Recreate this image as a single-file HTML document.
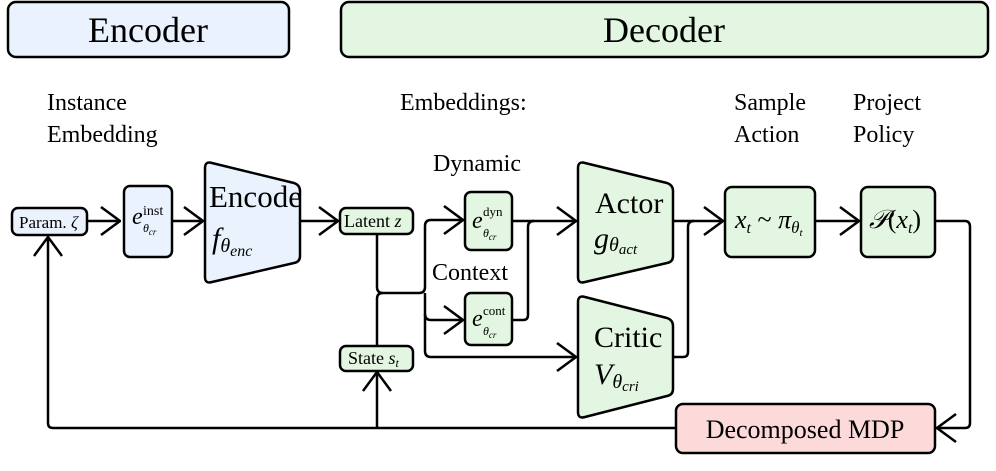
<!DOCTYPE html>
<html><head><meta charset="utf-8"><style>
body{margin:0;background:#fff}
svg text{font-family:"Liberation Serif",serif;fill:#000}
.i{font-style:italic}
</style></head><body>
<svg width="996" height="466" viewBox="0 0 996 466" xmlns="http://www.w3.org/2000/svg">
<defs>
<marker id="a" viewBox="0 0 22 32" markerWidth="22" markerHeight="32" refX="21" refY="16" orient="auto" markerUnits="userSpaceOnUse">
<path d="M2,2 L21,16 L2,30" fill="none" stroke="#000" stroke-width="2.5"/>
</marker>
</defs>
<g stroke="#000" stroke-width="2.5">
<rect x="8" y="2" width="281" height="55" rx="8" fill="#eaf2fd"/>
<rect x="341" y="2" width="647" height="55" rx="8" fill="#e3f6e1"/>
</g>
<text x="148" y="42" font-size="36" text-anchor="middle">Encoder</text>
<text x="664" y="42" font-size="36" text-anchor="middle">Decoder</text>
<g font-size="24">
<text x="47" y="110">Instance</text><text x="47" y="142">Embedding</text>
<text x="400" y="110">Embeddings:</text>
<text x="734" y="110">Sample</text><text x="734" y="142">Action</text>
<text x="853" y="110">Project</text><text x="853" y="142">Policy</text>
<text x="433" y="171">Dynamic</text>
<text x="432" y="280">Context</text>
</g>
<g fill="none" stroke="#000" stroke-width="2.5" stroke-linejoin="round">
<line x1="87" y1="221" x2="120" y2="221" marker-end="url(#a)"/>
<line x1="172" y1="221" x2="203" y2="221" marker-end="url(#a)"/>
<line x1="300" y1="221" x2="338" y2="221" marker-end="url(#a)"/>
<path d="M377,234 V287 Q377,293 383,293 H419 Q425,293 425,287 V226 Q425,220 431,220 H463" marker-end="url(#a)"/>
<path d="M377,346 V299 Q377,293 383,293"/>
<path d="M425,293 V314 Q425,320 431,320 H463" marker-end="url(#a)"/>
<path d="M425,314 V351 Q425,357 431,357 H576" marker-end="url(#a)"/>
<line x1="512" y1="221" x2="576" y2="221" marker-end="url(#a)"/>
<path d="M512,320 H523 Q528,320 528,315 V227 Q528,221 534,221"/>
<line x1="673" y1="221" x2="723" y2="221" marker-end="url(#a)"/>
<path d="M673,357 H683 Q688,357 688,352 V227 Q688,221 694,221"/>
<line x1="815" y1="221" x2="859" y2="221" marker-end="url(#a)"/>
<path d="M935,221 H965 Q970,221 970,227 V423 Q970,428 965,428 H937" marker-end="url(#a)"/>
<path d="M676,428 H53 Q48,428 48,423 V237" marker-end="url(#a)"/>
<line x1="377" y1="428" x2="377" y2="372" marker-end="url(#a)"/>
</g>
<g stroke="#000" stroke-width="2.5" stroke-linejoin="round">
<rect x="12" y="208" width="75" height="27" rx="6" fill="#eaf2fd"/>
<rect x="124" y="186" width="48" height="71" rx="6" fill="#eaf2fd"/>
<path d="M205,168 Q205,161 212,163 L294,183 Q300,185 300,191 V256 Q300,262 294,263 L212,282 Q205,284 205,277 Z" fill="#eaf2fd"/>
<rect x="340" y="208" width="73" height="26" rx="6" fill="#e3f6e1"/>
<rect x="340" y="346" width="73" height="25" rx="6" fill="#e3f6e1"/>
<rect x="465" y="192" width="47" height="58" rx="6" fill="#e3f6e1"/>
<rect x="465" y="293" width="47" height="52" rx="6" fill="#e3f6e1"/>
<path d="M578,168 Q578,161 585,163 L667,183 Q673,185 673,191 V256 Q673,262 667,263 L585,282 Q578,284 578,277 Z" fill="#e3f6e1"/>
<path d="M578,302 Q578,295 585,297 L667,318 Q673,320 673,326 V389 Q673,395 667,396 L585,417 Q578,419 578,412 Z" fill="#e3f6e1"/>
<rect x="725" y="187" width="90" height="70" rx="7" fill="#e3f6e1"/>
<rect x="861" y="187" width="74" height="70" rx="7" fill="#e3f6e1"/>
<rect x="676" y="404" width="259" height="49" rx="7" fill="#fddada"/>
</g>
<text x="19" y="228" font-size="17">Param. <tspan class="i">ζ</tspan></text>
<text x="132" y="224" font-size="24" class="i">e</text>
<text x="143" y="215" font-size="14">inst</text>
<text x="143" y="232" font-size="12" class="i">θ<tspan font-size="9" dy="3">cr</tspan></text>
<text x="209" y="207" font-size="31">Encode</text>
<text x="212" y="248" font-size="30" class="i">f<tspan font-size="20" dy="4">θ</tspan><tspan font-size="16" dy="4">enc</tspan></text>
<text x="344" y="227" font-size="18">Latent <tspan class="i">z</tspan></text>
<text x="348" y="364" font-size="18">State <tspan class="i">s<tspan font-size="12" dy="3">t</tspan></tspan></text>
<text x="472" y="228" font-size="24" class="i">e</text>
<text x="483" y="216" font-size="13">dyn</text>
<text x="483" y="237" font-size="12" class="i">θ<tspan font-size="9" dy="3">cr</tspan></text>
<text x="472" y="326" font-size="24" class="i">e</text>
<text x="483" y="315" font-size="13">cont</text>
<text x="483" y="335" font-size="12" class="i">θ<tspan font-size="9" dy="3">cr</tspan></text>
<text x="595" y="213" font-size="30">Actor</text>
<text x="594" y="248" font-size="30" class="i">g<tspan font-size="20" dy="3">θ</tspan><tspan font-size="15" dy="3">act</tspan></text>
<text x="594" y="347" font-size="30">Critic</text>
<text x="594" y="384" font-size="30" class="i">V<tspan font-size="20" dy="4">θ</tspan><tspan font-size="15" dy="3">cri</tspan></text>
<text x="735" y="228" font-size="26" class="i">x<tspan font-size="16" dy="5">t</tspan><tspan dy="-5" font-style="normal"> ~ </tspan>π<tspan font-size="17" dy="5">θ</tspan><tspan font-size="11" dy="3">t</tspan></text>
<text x="869" y="228" font-size="26" class="i">𝒫<tspan font-style="normal">(</tspan>x<tspan font-size="16" dy="5">t</tspan><tspan dy="-5" font-style="normal">)</tspan></text>
<text x="805" y="438" font-size="26" text-anchor="middle">Decomposed MDP</text>
</svg>
</body></html>
